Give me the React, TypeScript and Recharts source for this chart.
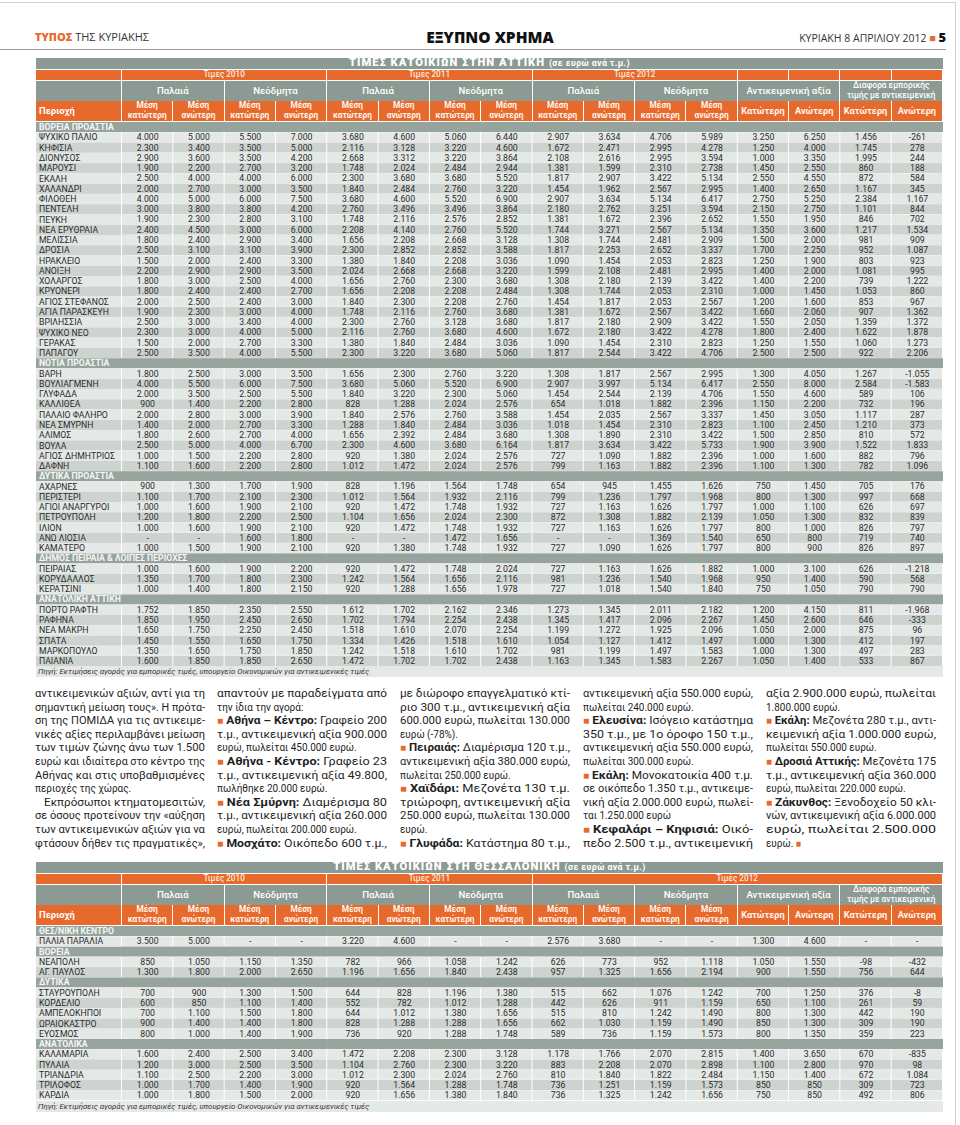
import React from 'react';
import { BarChart, Bar, XAxis, YAxis } from 'recharts';

type Vals = (number | null)[];
type Entry = [string, Vals];

// ---------- DATA: Attica (euro per m2) ----------
// columns: 2010 old low/high, new low/high | 2011 old low/high, new low/high | 2012 old low/high, new low/high | objective low/high | difference low/high
const ATTICA_NORTH: Entry[] = [
  ['ΨΥΧΙΚΟ ΠΑΛΙΟ', [4000, 5000, 5500, 7000, 3680, 4600, 5060, 6440, 2907, 3634, 4706, 5989, 3250, 6250, 1456, -261]],
  ['ΚΗΦΙΣΙΑ', [2300, 3400, 3500, 5000, 2116, 3128, 3220, 4600, 1672, 2471, 2995, 4278, 1250, 4000, 1745, 278]],
  ['ΔΙΟΝΥΣΟΣ', [2900, 3600, 3500, 4200, 2668, 3312, 3220, 3864, 2108, 2616, 2995, 3594, 1000, 3350, 1995, 244]],
  ['ΜΑΡΟΥΣΙ', [1900, 2200, 2700, 3200, 1748, 2024, 2484, 2944, 1381, 1599, 2310, 2738, 1450, 2550, 860, 188]],
  ['ΕΚΑΛΗ', [2500, 4000, 4000, 6000, 2300, 3680, 3680, 5520, 1817, 2907, 3422, 5134, 2550, 4550, 872, 584]],
  ['ΧΑΛΑΝΔΡΙ', [2000, 2700, 3000, 3500, 1840, 2484, 2760, 3220, 1454, 1962, 2567, 2995, 1400, 2650, 1167, 345]],
  ['ΦΙΛΟΘΕΗ', [4000, 5000, 6000, 7500, 3680, 4600, 5520, 6900, 2907, 3634, 5134, 6417, 2750, 5250, 2384, 1167]],
  ['ΠΕΝΤΕΛΗ', [3000, 3800, 3800, 4200, 2760, 3496, 3496, 3864, 2180, 2762, 3251, 3594, 2150, 2750, 1101, 844]],
  ['ΠΕΥΚΗ', [1900, 2300, 2800, 3100, 1748, 2116, 2576, 2852, 1381, 1672, 2396, 2652, 1550, 1950, 846, 702]],
  ['ΝΕΑ ΕΡΥΘΡΑΙΑ', [2400, 4500, 3000, 6000, 2208, 4140, 2760, 5520, 1744, 3271, 2567, 5134, 1350, 3600, 1217, 1534]],
  ['ΜΕΛΙΣΣΙΑ', [1800, 2400, 2900, 3400, 1656, 2208, 2668, 3128, 1308, 1744, 2481, 2909, 1500, 2000, 981, 909]],
  ['ΔΡΟΣΙΑ', [2500, 3100, 3100, 3900, 2300, 2852, 2852, 3588, 1817, 2253, 2652, 3337, 1700, 2250, 952, 1087]],
  ['ΗΡΑΚΛΕΙΟ', [1500, 2000, 2400, 3300, 1380, 1840, 2208, 3036, 1090, 1454, 2053, 2823, 1250, 1900, 803, 923]],
  ['ΑΝΟΙΞΗ', [2200, 2900, 2900, 3500, 2024, 2668, 2668, 3220, 1599, 2108, 2481, 2995, 1400, 2000, 1081, 995]],
  ['ΧΟΛΑΡΓΟΣ', [1800, 3000, 2500, 4000, 1656, 2760, 2300, 3680, 1308, 2180, 2139, 3422, 1400, 2200, 739, 1222]],
  ['ΚΡΥΟΝΕΡΙ', [1800, 2400, 2400, 2700, 1656, 2208, 2208, 2484, 1308, 1744, 2053, 2310, 1000, 1450, 1053, 860]],
  ['ΑΓΙΟΣ ΣΤΕΦΑΝΟΣ', [2000, 2500, 2400, 3000, 1840, 2300, 2208, 2760, 1454, 1817, 2053, 2567, 1200, 1600, 853, 967]],
  ['ΑΓΙΑ ΠΑΡΑΣΚΕΥΗ', [1900, 2300, 3000, 4000, 1748, 2116, 2760, 3680, 1381, 1672, 2567, 3422, 1660, 2060, 907, 1362]],
  ['ΒΡΙΛΗΣΣΙΑ', [2500, 3000, 3400, 4000, 2300, 2760, 3128, 3680, 1817, 2180, 2909, 3422, 1550, 2050, 1359, 1372]],
  ['ΨΥΧΙΚΟ ΝΕΟ', [2300, 3000, 4000, 5000, 2116, 2760, 3680, 4600, 1672, 2180, 3422, 4278, 1800, 2400, 1622, 1878]],
  ['ΓΕΡΑΚΑΣ', [1500, 2000, 2700, 3300, 1380, 1840, 2484, 3036, 1090, 1454, 2310, 2823, 1250, 1550, 1060, 1273]],
  ['ΠΑΠΑΓΟΥ', [2500, 3500, 4000, 5500, 2300, 3220, 3680, 5060, 1817, 2544, 3422, 4706, 2500, 2500, 922, 2206]],
];

const ATTICA_SOUTH: Entry[] = [
  ['ΒΑΡΗ', [1800, 2500, 3000, 3500, 1656, 2300, 2760, 3220, 1308, 1817, 2567, 2995, 1300, 4050, 1267, -1055]],
  ['ΒΟΥΛΙΑΓΜΕΝΗ', [4000, 5500, 6000, 7500, 3680, 5060, 5520, 6900, 2907, 3997, 5134, 6417, 2550, 8000, 2584, -1583]],
  ['ΓΛΥΦΑΔΑ', [2000, 3500, 2500, 5500, 1840, 3220, 2300, 5060, 1454, 2544, 2139, 4706, 1550, 4600, 589, 106]],
  ['ΚΑΛΛΙΘΕΑ', [900, 1400, 2200, 2800, 828, 1288, 2024, 2576, 654, 1018, 1882, 2396, 1150, 2200, 732, 196]],
  ['ΠΑΛΑΙΟ ΦΑΛΗΡΟ', [2000, 2800, 3000, 3900, 1840, 2576, 2760, 3588, 1454, 2035, 2567, 3337, 1450, 3050, 1117, 287]],
  ['ΝΕΑ ΣΜΥΡΝΗ', [1400, 2000, 2700, 3300, 1288, 1840, 2484, 3036, 1018, 1454, 2310, 2823, 1100, 2450, 1210, 373]],
  ['ΑΛΙΜΟΣ', [1800, 2600, 2700, 4000, 1656, 2392, 2484, 3680, 1308, 1890, 2310, 3422, 1500, 2850, 810, 572]],
  ['ΒΟΥΛΑ', [2500, 5000, 4000, 6700, 2300, 4600, 3680, 6164, 1817, 3634, 3422, 5733, 1900, 3900, 1522, 1833]],
  ['ΑΓΙΟΣ ΔΗΜΗΤΡΙΟΣ', [1000, 1500, 2200, 2800, 920, 1380, 2024, 2576, 727, 1090, 1882, 2396, 1000, 1600, 882, 796]],
  ['ΔΑΦΝΗ', [1100, 1600, 2200, 2800, 1012, 1472, 2024, 2576, 799, 1163, 1882, 2396, 1100, 1300, 782, 1096]],
];

const ATTICA_WEST: Entry[] = [
  ['ΑΧΑΡΝΕΣ', [900, 1300, 1700, 1900, 828, 1196, 1564, 1748, 654, 945, 1455, 1626, 750, 1450, 705, 176]],
  ['ΠΕΡΙΣΤΕΡΙ', [1100, 1700, 2100, 2300, 1012, 1564, 1932, 2116, 799, 1236, 1797, 1968, 800, 1300, 997, 668]],
  ['ΑΓΙΟΙ ΑΝΑΡΓΥΡΟΙ', [1000, 1600, 1900, 2100, 920, 1472, 1748, 1932, 727, 1163, 1626, 1797, 1000, 1100, 626, 697]],
  ['ΠΕΤΡΟΥΠΟΛΗ', [1200, 1800, 2200, 2500, 1104, 1656, 2024, 2300, 872, 1308, 1882, 2139, 1050, 1300, 832, 839]],
  ['ΙΛΙΟΝ', [1000, 1600, 1900, 2100, 920, 1472, 1748, 1932, 727, 1163, 1626, 1797, 800, 1000, 826, 797]],
  ['ΑΝΩ ΛΙΟΣΙΑ', [null, null, 1600, 1800, null, null, 1472, 1656, null, null, 1369, 1540, 650, 800, 719, 740]],
  ['ΚΑΜΑΤΕΡΟ', [1000, 1500, 1900, 2100, 920, 1380, 1748, 1932, 727, 1090, 1626, 1797, 800, 900, 826, 897]],
];

const ATTICA_PIRAEUS: Entry[] = [
  ['ΠΕΙΡΑΙΑΣ', [1000, 1600, 1900, 2200, 920, 1472, 1748, 2024, 727, 1163, 1626, 1882, 1000, 3100, 626, -1218]],
  ['ΚΟΡΥΔΑΛΛΟΣ', [1350, 1700, 1800, 2300, 1242, 1564, 1656, 2116, 981, 1236, 1540, 1968, 950, 1400, 590, 568]],
  ['ΚΕΡΑΤΣΙΝΙ', [1000, 1400, 1800, 2150, 920, 1288, 1656, 1978, 727, 1018, 1540, 1840, 750, 1050, 790, 790]],
];

const ATTICA_EAST: Entry[] = [
  ['ΠΟΡΤΟ ΡΑΦΤΗ', [1752, 1850, 2350, 2550, 1612, 1702, 2162, 2346, 1273, 1345, 2011, 2182, 1200, 4150, 811, -1968]],
  ['ΡΑΦΗΝΑ', [1850, 1950, 2450, 2650, 1702, 1794, 2254, 2438, 1345, 1417, 2096, 2267, 1450, 2600, 646, -333]],
  ['ΝΕΑ ΜΑΚΡΗ', [1650, 1750, 2250, 2450, 1518, 1610, 2070, 2254, 1199, 1272, 1925, 2096, 1050, 2000, 875, 96]],
  ['ΣΠΑΤΑ', [1450, 1550, 1650, 1750, 1334, 1426, 1518, 1610, 1054, 1127, 1412, 1497, 1000, 1300, 412, 197]],
  ['ΜΑΡΚΟΠΟΥΛΟ', [1350, 1650, 1750, 1850, 1242, 1518, 1610, 1702, 981, 1199, 1497, 1583, 1000, 1300, 497, 283]],
  ['ΠΑΙΑΝΙΑ', [1600, 1850, 1850, 2650, 1472, 1702, 1702, 2438, 1163, 1345, 1583, 2267, 1050, 1400, 533, 867]],
];

const ATTICA_SECTION_TITLES = ['ΒΟΡΕΙΑ ΠΡΟΑΣΤΙΑ', 'ΝΟΤΙΑ ΠΡΟΑΣΤΙΑ', 'ΔΥΤΙΚΑ ΠΡΟΑΣΤΙΑ', 'ΔΗΜΟΣ ΠΕΙΡΑΙΑ & ΛΟΙΠΕΣ ΠΕΡΙΟΧΕΣ', 'ΑΝΑΤΟΛΙΚΗ ΑΤΤΙΚΗ'];

// ---------- DATA: Thessaloniki ----------
const THESS_CENTER: Entry[] = [
  ['ΠΑΛΙΑ ΠΑΡΑΛΙΑ', [3500, 5000, null, null, 3220, 4600, null, null, 2576, 3680, null, null, 1300, 4600, null, null]],
];
const THESS_NORTH: Entry[] = [
  ['ΝΕΑΠΟΛΗ', [850, 1050, 1150, 1350, 782, 966, 1058, 1242, 626, 773, 952, 1118, 1050, 1550, -98, -432]],
  ['ΑΓ. ΠΑΥΛΟΣ', [1300, 1800, 2000, 2650, 1196, 1656, 1840, 2438, 957, 1325, 1656, 2194, 900, 1550, 756, 644]],
];
const THESS_WEST: Entry[] = [
  ['ΣΤΑΥΡΟΥΠΟΛΗ', [700, 900, 1300, 1500, 644, 828, 1196, 1380, 515, 662, 1076, 1242, 700, 1250, 376, -8]],
  ['ΚΟΡΔΕΛΙΟ', [600, 850, 1100, 1400, 552, 782, 1012, 1288, 442, 626, 911, 1159, 650, 1100, 261, 59]],
  ['ΑΜΠΕΛΟΚΗΠΟΙ', [700, 1100, 1500, 1800, 644, 1012, 1380, 1656, 515, 810, 1242, 1490, 800, 1300, 442, 190]],
  ['ΩΡΑΙΟΚΑΣΤΡΟ', [900, 1400, 1400, 1800, 828, 1288, 1288, 1656, 662, 1030, 1159, 1490, 850, 1300, 309, 190]],
  ['ΕΥΟΣΜΟΣ', [800, 1000, 1400, 1900, 736, 920, 1288, 1748, 589, 736, 1159, 1573, 800, 1350, 359, 223]],
];
const THESS_EAST: Entry[] = [
  ['ΚΑΛΑΜΑΡΙΑ', [1600, 2400, 2500, 3400, 1472, 2208, 2300, 3128, 1178, 1766, 2070, 2815, 1400, 3650, 670, -835]],
  ['ΠΥΛΑΙΑ', [1200, 3000, 2500, 3500, 1104, 2760, 2300, 3220, 883, 2208, 2070, 2898, 1100, 2800, 970, 98]],
  ['ΤΡΙΑΝΔΡΙΑ', [1100, 2500, 2200, 3000, 1012, 2300, 2024, 2760, 810, 1840, 1822, 2484, 1150, 1400, 672, 1084]],
  ['ΤΡΙΛΟΦΟΣ', [1000, 1700, 1400, 1900, 920, 1564, 1288, 1748, 736, 1251, 1159, 1573, 850, 850, 309, 723]],
  ['ΚΑΡΔΙΑ', [1000, 1800, 1500, 2000, 920, 1656, 1380, 1840, 736, 1325, 1242, 1656, 750, 850, 492, 806]],
];
const THESS_SECTION_TITLES = ['ΘΕΣ/ΝΙΚΗ ΚΕΝΤΡΟ', 'ΒΟΡΕΙΑ', 'ΔΥΤΙΚΑ', 'ΑΝΑΤΟΛΙΚΑ'];

// ---------- header labels ----------
const YEAR_LABELS = ['Τιμές 2010', 'Τιμές 2011', 'Τιμές 2012'];
const GROUP_LABELS = ['Παλαιά', 'Νεόδμητα', 'Παλαιά', 'Νεόδμητα', 'Παλαιά', 'Νεόδμητα', 'Αντικειμενική αξία', 'Διαφορά εμπορικής|τιμής με αντικειμενική'];
const SUB_LABELS = [
  'Μέση|κατώτερη', 'Μέση|ανώτερη', 'Μέση|κατώτερη', 'Μέση|ανώτερη',
  'Μέση|κατώτερη', 'Μέση|ανώτερη', 'Μέση|κατώτερη', 'Μέση|ανώτερη',
  'Μέση|κατώτερη', 'Μέση|ανώτερη', 'Μέση|κατώτερη', 'Μέση|ανώτερη',
  'Κατώτερη', 'Ανώτερη', 'Κατώτερη', 'Ανώτερη',
];
const SOURCE_TEXT = 'Πηγή: Εκτιμήσεις αγοράς για εμπορικές τιμές, υπουργείο Οικονομικών για αντικειμενικές τιμές';

// ---------- article text (line by line) ----------
const TEXT_COLUMNS: string[][] = [
  [
    'αντικειμενικών αξιών, αντί για τη',
    'σημαντική μείωση τους». Η πρότα-',
    'ση της ΠΟΜΙΔΑ για τις αντικειμε-',
    'νικές αξίες περιλαμβάνει μείωση',
    'των τιμών ζώνης άνω των 1.500',
    'ευρώ και ιδιαίτερα στο κέντρο της',
    'Αθήνας και στις υποβαθμισμένες',
    'περιοχές της χώρας.¶',
    '>Εκπρόσωποι κτηματομεσιτών,',
    'σε όσους προτείνουν την «αύξηση',
    'των αντικειμενικών αξιών για να',
    'φτάσουν δήθεν τις πραγματικές»,',
  ],
  [
    'απαντούν με παραδείγματα από',
    'την ίδια την αγορά:¶',
    '■ *Αθήνα – Κέντρο:* Γραφείο 200',
    'τ.μ., αντικειμενική αξία 900.000',
    'ευρώ, πωλείται 450.000 ευρώ.¶',
    '■ *Αθήνα - Κέντρο:* Γραφείο 23',
    'τ.μ., αντικειμενική αξία 49.800,',
    'πωλήθηκε 20.000 ευρώ.¶',
    '■ *Νέα Σμύρνη:* Διαμέρισμα 80',
    'τ.μ., αντικειμενική αξία 260.000',
    'ευρώ, πωλείται 200.000 ευρώ.¶',
    '■ *Μοσχάτο:* Οικόπεδο 600 τ.μ.,',
  ],
  [
    'με διώροφο επαγγελματικό κτί-',
    'ριο 300 τ.μ., αντικειμενική αξία',
    '600.000 ευρώ, πωλείται 130.000',
    'ευρώ (-78%).¶',
    '■ *Πειραιάς:* Διαμέρισμα 120 τ.μ.,',
    'αντικειμενική αξία 380.000 ευρώ,',
    'πωλείται 250.000 ευρώ.¶',
    '■ *Χαϊδάρι:* Μεζονέτα 130 τ.μ.',
    'τριώροφη, αντικειμενική αξία',
    '250.000 ευρώ, πωλείται 130.000',
    'ευρώ.¶',
    '■ *Γλυφάδα:* Κατάστημα 80 τ.μ.,',
  ],
  [
    'αντικειμενική αξία 550.000 ευρώ,',
    'πωλείται 240.000 ευρώ.¶',
    '■ *Ελευσίνα:* Ισόγειο κατάστημα',
    '350 τ.μ., με 1ο όροφο 150 τ.μ.,',
    'αντικειμενική αξία 550.000 ευρώ,',
    'πωλείται 300.000 ευρώ.¶',
    '■ *Εκάλη:* Μονοκατοικία 400 τ.μ.',
    'σε οικόπεδο 1.350 τ.μ., αντικειμε-',
    'νική αξία 2.000.000 ευρώ, πωλεί-',
    'ται 1.250.000 ευρώ¶',
    '■ *Κεφαλάρι – Κηφισιά:* Οικό-',
    'πεδο 2.500 τ.μ., αντικειμενική',
  ],
  [
    'αξία 2.900.000 ευρώ, πωλείται',
    '1.800.000 ευρώ.¶',
    '■ *Εκάλη:* Μεζονέτα 280 τ.μ., αντι-',
    'κειμενική αξία 1.000.000 ευρώ,',
    'πωλείται 550.000 ευρώ.¶',
    '■ *Δροσιά Αττικής:* Μεζονέτα 175',
    'τ.μ., αντικειμενική αξία 360.000',
    'ευρώ, πωλείται 220.000 ευρώ.¶',
    '■ *Ζάκυνθος:* Ξενοδοχείο 50 κλι-',
    'νών, αντικειμενική αξία 6.000.000',
    'ευρώ, πωλείται 2.500.000',
    'ευρώ. ■¶',
  ],
];

// ---------- styling constants ----------
const ORANGE = '#e8692c';
const HDR_GRAY = '#8b9a93';
const SECTION_GRAY = '#97a49e';
const LIGHT = '#e4e8e6';
const DARK = '#cdd4d0';
const TEXT = '#2b2b2b';
const FONT = "Roboto, 'Open Sans', sans-serif";
const PAGE_FONT = "'Open Sans', 'Noto Sans', sans-serif";

const TBL_X = 36;
const TBL_W = 907;
const NAME_W = 86;
const NCOL = 16;
const COL_W = (TBL_W - NAME_W) / NCOL;
const ROW_H = 10.27;
const BODY_OFF = 63.5;
const CELL_FS = 8.7;

type Row = { key: string; name: string; section: boolean; alt: boolean; vals: Vals; [k: string]: any };

function buildRows(titles: string[], groups: Entry[][]): Row[] {
  const out: Row[] = [];
  titles.forEach((t, si) => {
    out.push({ key: `s${si}`, name: t, section: true, alt: false, vals: [] });
    groups[si].forEach(([name, vals], i) => {
      out.push({ key: `r${si}_${i}`, name, section: false, alt: i % 2 === 1, vals });
    });
  });
  out.forEach((r) => {
    for (let c = 0; c < NCOL; c++) r[`c${c}`] = 1; // one table cell
  });
  return out;
}

function fmt(v: number | null | undefined): string {
  if (v === null || v === undefined) return '-';
  const s = Math.abs(v).toString().replace(/\B(?=(\d{3})+(?!\d))/g, '.');
  return (v < 0 ? '-' : '') + s;
}

function makeTick(rows: Row[]) {
  const byKey: Record<string, Row> = {};
  rows.forEach((r) => (byKey[r.key] = r));
  return (props: any) => {
    const { y, payload } = props;
    const r = byKey[payload.value];
    if (!r || r.section) return <g />;
    return (
      <g>
        <rect x={0} y={y - ROW_H / 2} width={NAME_W - 1} height={ROW_H} fill={r.alt ? DARK : LIGHT} />
        <text x={3} y={y} dy="0.35em" fontSize={CELL_FS} fontFamily={FONT} fill={TEXT}>
          {r.name}
        </text>
      </g>
    );
  };
}

function makeShape(ci: number, rows: Row[]) {
  return (p: any) => {
    const r: Row = p.payload ?? rows[p.index];
    const { x, y, width, height } = p;
    if (r.section) {
      const left = ci === 0 ? x - NAME_W : x;
      return (
        <g>
          <rect x={left} y={y} width={x + width - left + 0.6} height={height} fill={SECTION_GRAY} />
          {ci === NCOL - 1 && (
            <text
              x={x - (NCOL - 1) * width - NAME_W + 3}
              y={y + height / 2}
              dy="0.35em"
              fontSize={CELL_FS}
              fontWeight={700}
              fontFamily={FONT}
              fill="#f4f6f5"
            >
              {r.name}
            </text>
          )}
        </g>
      );
    }
    return (
      <g>
        <rect x={x} y={y} width={width - 1} height={height} fill={r.alt ? DARK : LIGHT} />
        <text
          x={x + width / 2}
          y={y + height / 2}
          dy="0.35em"
          textAnchor="middle"
          fontSize={CELL_FS}
          fontFamily={FONT}
          fill={TEXT}
        >
          {fmt(r.vals[ci])}
        </text>
      </g>
    );
  };
}

function HCell(props: { left: number; top: number; width: number; height: number; bg: string; children?: React.ReactNode; align?: 'left' | 'center' }) {
  const { left, top, width, height, bg, children, align = 'center' } = props;
  return (
    <div
      style={{
        position: 'absolute',
        left,
        top,
        width,
        height,
        background: bg,
        display: 'flex',
        flexDirection: 'column',
        justifyContent: 'center',
        alignItems: align === 'left' ? 'flex-start' : 'center',
        paddingLeft: align === 'left' ? 3 : 0,
        boxSizing: 'border-box',
        color: '#fff',
        fontFamily: FONT,
        textAlign: 'center',
        whiteSpace: 'nowrap',
        overflow: 'visible',
      }}
    >
      {children}
    </div>
  );
}

function PriceTable(props: { top: number; title: string; titles: string[]; groups: Entry[][]; merged2012: boolean }) {
  const { top, title, titles, groups, merged2012 } = props;
  const rows = buildRows(titles, groups);
  const bodyH = rows.length * ROW_H;
  const cx = (c: number) => NAME_W + c * COL_W;
  const span = (a: number, b: number) => ({ left: cx(a), width: (b - a + 1) * COL_W - 1 });

  const yearSpans: [number, number, string][] = [
    [0, 3, YEAR_LABELS[0]],
    [4, 7, YEAR_LABELS[1]],
  ];
  if (merged2012) yearSpans.push([8, 15, YEAR_LABELS[2]]);
  else {
    yearSpans.push([8, 11, YEAR_LABELS[2]]);
    [12, 13, 14, 15].forEach((c) => yearSpans.push([c, c, '']));
  }

  return (
    <div style={{ position: 'absolute', left: TBL_X, top, width: TBL_W, height: BODY_OFF + bodyH + 12 }}>
      {/* title bar */}
      <HCell left={0} top={0} width={TBL_W} height={10.5} bg={HDR_GRAY}>
        <div style={{ lineHeight: '10.5px', fontSize: 11.2, fontWeight: 900, letterSpacing: 1 }}>
          {title} <span style={{ fontSize: 8.8, fontWeight: 700, letterSpacing: 0.4 }}>(σε ευρώ ανά τ.μ.)</span>
        </div>
      </HCell>
      {/* year row */}
      <HCell left={0} top={12} width={NAME_W - 1} height={9.5} bg={ORANGE} />
      {yearSpans.map(([a, b, lab], i) => {
        const s = span(a, b);
        return (
          <HCell key={`y${i}`} left={s.left} top={12} width={s.width} height={9.5} bg={ORANGE}>
            {lab ? <div style={{ fontSize: 8.2, lineHeight: '9.5px', fontWeight: 500, color: '#fde9dc' }}>{lab}</div> : null}
          </HCell>
        );
      })}
      {/* group row */}
      <HCell left={0} top={22.5} width={NAME_W - 1} height={20} bg={HDR_GRAY} />
      {GROUP_LABELS.map((lab, g) => {
        const s = span(g * 2, g * 2 + 1);
        const lines = lab.split('|');
        return (
          <HCell key={`g${g}`} left={s.left} top={22.5} width={s.width} height={20} bg={HDR_GRAY}>
            {lines.map((l, k) => (
              <div key={k} style={{ fontSize: lines.length > 1 ? 8.3 : 9.6, lineHeight: lines.length > 1 ? '9.8px' : '12px', fontWeight: 500 }}>
                {l}
              </div>
            ))}
          </HCell>
        );
      })}
      {/* sub header row */}
      <HCell left={0} top={43} width={NAME_W - 1} height={19.5} bg={ORANGE} align="left">
        <div style={{ fontSize: 9.4, fontWeight: 700 }}>Περιοχή</div>
      </HCell>
      {SUB_LABELS.map((lab, c) => {
        const s = span(c, c);
        const lines = lab.split('|');
        return (
          <HCell key={`h${c}`} left={s.left} top={43} width={s.width} height={19.5} bg={ORANGE}>
            {lines.map((l, k) => (
              <div key={k} style={{ fontSize: lines.length > 1 ? 8.3 : 9.2, lineHeight: lines.length > 1 ? '9.7px' : '12px', fontWeight: 700, color: '#fff5ee' }}>
                {l}
              </div>
            ))}
          </HCell>
        );
      })}
      {/* body */}
      <div style={{ position: 'absolute', left: 0, top: BODY_OFF }}>
        <BarChart
          layout="vertical"
          width={TBL_W}
          height={bodyH}
          data={rows}
          margin={{ top: 0, right: 0, bottom: 0, left: 0 }}
          barCategoryGap={0}
          barGap={0}
        >
          <XAxis type="number" hide domain={[0, 'dataMax']} />
          <YAxis
            type="category"
            dataKey="key"
            width={NAME_W}
            interval={0}
            tickLine={false}
            axisLine={false}
            tick={makeTick(rows)}
          />
          {Array.from({ length: NCOL }, (_, ci) => (
            <Bar key={ci} dataKey={`c${ci}`} stackId="cells" isAnimationActive={false} shape={makeShape(ci, rows)} />
          ))}
        </BarChart>
      </div>
      {/* source */}
      <div
        style={{
          position: 'absolute',
          left: 0,
          top: BODY_OFF + bodyH + 0.5,
          width: TBL_W,
          height: 11,
          background: LIGHT,
          fontFamily: FONT,
          fontStyle: 'italic',
          fontSize: 7.8,
          lineHeight: '11px',
          color: '#333',
          paddingLeft: 2,
          boxSizing: 'border-box',
          whiteSpace: 'nowrap',
        }}
      >
        {SOURCE_TEXT}
      </div>
    </div>
  );
}

// ---------- article text ----------
const TXT_COL_X = [35, 217, 400, 583, 766];
const TXT_COL_W = 170;
const TXT_BASE = 697;
const TXT_LH = 13.6;
const TXT_SX = 0.86;
const TXT_FS = 11.6;
const TXT_FONT = "Roboto, 'Open Sans', sans-serif";

function renderLine(raw: string, key: string, y: number) {
  let s = raw;
  let justify = true;
  let indent = 0;
  if (s.endsWith('¶')) {
    justify = false;
    s = s.slice(0, -1);
  }
  if (s.startsWith('>')) {
    indent = 9;
    s = s.slice(1);
  }
  const parts = s.split('*');
  const spans: React.ReactNode[] = [];
  parts.forEach((p, i) => {
    p.split(/(■)/).forEach((seg, j) => {
      if (!seg) return;
      if (seg === '■')
        spans.push(
          <tspan key={`${i}_${j}`} fill={ORANGE} fontSize={10}>
            ■
          </tspan>
        );
      else
        spans.push(
          <tspan key={`${i}_${j}`} fontWeight={i % 2 === 1 ? 700 : 400}>
            {seg}
          </tspan>
        );
    });
  });
  return (
    <text
      key={key}
      x={indent / TXT_SX}
      y={y}
      fontSize={TXT_FS}
      fontFamily={TXT_FONT}
      fill="#1e1e1e"
      {...(justify ? { textLength: (TXT_COL_W - indent) / TXT_SX, lengthAdjust: 'spacingAndGlyphs' } : {})}
    >
      {spans}
    </text>
  );
}

function ArticleText() {
  return (
    <svg style={{ position: 'absolute', left: 0, top: 0 }} width={960} height={860}>
      {TEXT_COLUMNS.map((lines, ci) => (
        <g key={ci} transform={`translate(${TXT_COL_X[ci]},0) scale(${TXT_SX},1)`}>
          {lines.map((l, li) => renderLine(l, `${ci}_${li}`, TXT_BASE + li * TXT_LH))}
        </g>
      ))}
    </svg>
  );
}

export default function App() {
  return (
    <div
      style={{
        position: 'absolute',
        left: 0,
        top: 0,
        width: 960,
        height: 1125,
        background: '#fff',
        overflow: 'hidden',
        fontFamily: PAGE_FONT,
      }}
    >
      {/* page frame */}
      <div style={{ position: 'absolute', left: 0, top: 2, width: 956, height: 1, background: '#cfcfcf' }} />
      <div style={{ position: 'absolute', left: 955, top: 2, width: 1, height: 1123, background: '#cfcfcf' }} />

      {/* page header */}
      <div style={{ position: 'absolute', left: 35, top: 30, fontSize: 11, lineHeight: '14px', color: '#333', whiteSpace: 'nowrap' }}>
        <span style={{ color: ORANGE, fontWeight: 800 }}>ΤΥΠΟΣ</span> ΤΗΣ ΚΥΡΙΑΚΗΣ
      </div>
      <div
        style={{
          position: 'absolute',
          left: 380,
          top: 28,
          width: 220,
          textAlign: 'center',
          fontSize: 15.5,
          lineHeight: '18px',
          fontWeight: 800,
          color: '#111',
          whiteSpace: 'nowrap',
        }}
      >
        ΕΞΥΠΝΟ ΧΡΗΜΑ
      </div>
      <div
        style={{
          position: 'absolute',
          left: 640,
          top: 30,
          width: 306,
          textAlign: 'right',
          fontSize: 10.5,
          lineHeight: '14px',
          color: '#333',
          whiteSpace: 'nowrap',
        }}
      >
        ΚΥΡΙΑΚΗ 8 ΑΠΡΙΛΙΟΥ 2012 <span style={{ color: ORANGE }}>■</span>{' '}
        <span style={{ fontWeight: 800, fontSize: 13, color: '#111' }}>5</span>
      </div>
      <div style={{ position: 'absolute', left: 0, top: 49, width: 946, height: 1, background: '#9a9a9a' }} />

      <PriceTable
        top={58}
        title="ΤΙΜΕΣ ΚΑΤΟΙΚΙΩΝ ΣΤΗΝ ΑΤΤΙΚΗ"
        titles={ATTICA_SECTION_TITLES}
        groups={[ATTICA_NORTH, ATTICA_SOUTH, ATTICA_WEST, ATTICA_PIRAEUS, ATTICA_EAST]}
        merged2012={false}
      />

      <ArticleText />

      <PriceTable
        top={862}
        title="ΤΙΜΕΣ ΚΑΤΟΙΚΙΩΝ ΣΤΗ ΘΕΣΣΑΛΟΝΙΚΗ"
        titles={THESS_SECTION_TITLES}
        groups={[THESS_CENTER, THESS_NORTH, THESS_WEST, THESS_EAST]}
        merged2012={true}
      />
    </div>
  );
}
